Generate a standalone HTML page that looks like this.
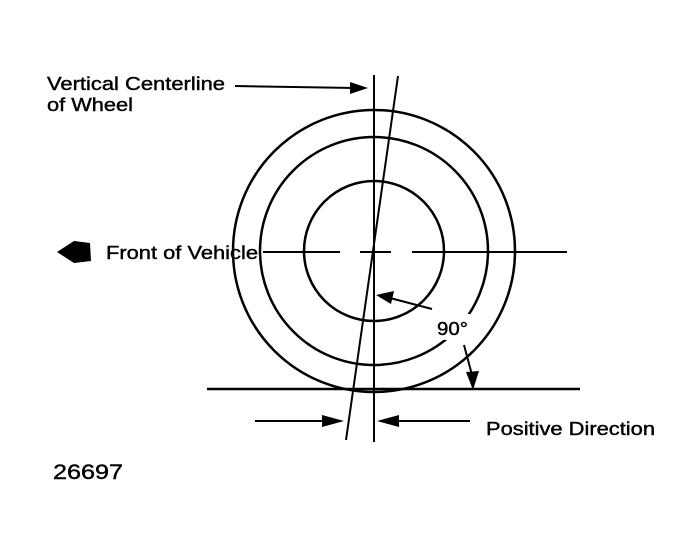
<!DOCTYPE html>
<html><head><style>
body{margin:0;background:#fff;}
svg{display:block;}
text{font-family:"Liberation Sans",Arial,sans-serif;fill:#000;stroke:#000;stroke-width:0.4;}
</style></head><body>
<svg width="692" height="555" viewBox="0 0 692 555" xmlns="http://www.w3.org/2000/svg">
<g fill="none" stroke="#000" stroke-width="2.5">
<circle cx="374" cy="251" r="141"/>
<circle cx="374" cy="251" r="114"/>
<circle cx="374" cy="251" r="70"/>
</g>
<rect x="434" y="314" width="36" height="26" fill="#fff"/>
<g stroke="#000" stroke-width="2">
<line x1="374" y1="75" x2="374" y2="442"/>
<line x1="398" y1="76" x2="346" y2="440"/>
<line x1="207" y1="389" x2="580" y2="389" stroke-width="2.5"/>
<line x1="263" y1="252" x2="340" y2="252"/>
<line x1="360" y1="252" x2="391" y2="252"/>
<line x1="412" y1="252" x2="567" y2="252"/>
<line x1="235" y1="86" x2="355" y2="88"/>
<line x1="255" y1="421" x2="330" y2="421"/>
<line x1="393" y1="421" x2="470" y2="421"/>
<line x1="432" y1="309" x2="390" y2="298"/>
<line x1="464" y1="345" x2="472" y2="375"/>
</g>
<g fill="#000">
<polygon points="368,88 350,82 350,94"/>
<polygon points="344,421 322,415 322,427"/>
<polygon points="377,421 399,415 399,427"/>
<polygon points="376,295 394,291 391,304"/>
<polygon points="473,390 466,372 479,371"/>
<path d="M57,252 L74,241 L90,243 L91,261 L74,263 Z"/>
</g>
<text x="47" y="90" font-size="18" textLength="178" lengthAdjust="spacingAndGlyphs">Vertical Centerline</text>
<text x="47" y="111" font-size="18" textLength="86" lengthAdjust="spacingAndGlyphs">of Wheel</text>
<text x="106" y="259" font-size="18" textLength="152" lengthAdjust="spacingAndGlyphs">Front of Vehicle</text>
<text x="437" y="335" font-size="18" textLength="31" lengthAdjust="spacingAndGlyphs">90°</text>
<text x="486" y="435" font-size="18" textLength="169" lengthAdjust="spacingAndGlyphs">Positive Direction</text>
<text x="53" y="479" font-size="21" textLength="70" lengthAdjust="spacingAndGlyphs">26697</text>
</svg>
</body></html>
